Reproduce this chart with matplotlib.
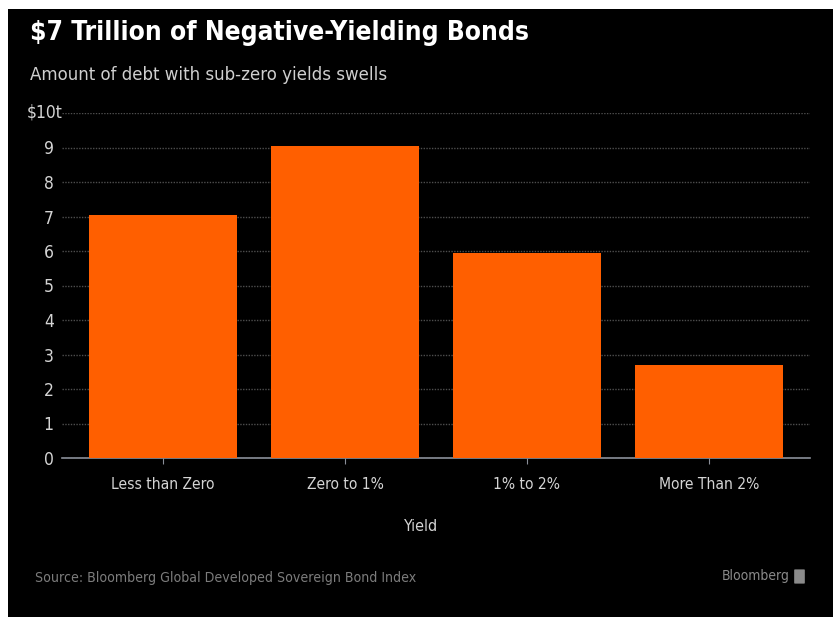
import matplotlib
matplotlib.use("Agg")
import matplotlib.pyplot as plt
from matplotlib.patches import Rectangle, FancyBboxPatch

# debt by yield bucket, trillions of dollars
categories = ["Less than Zero", "Zero to 1%", "1% to 2%", "More Than 2%"]
debt = [7.05, 9.05, 5.95, 2.7]
yticks = list(range(0, 11))
ytick_labels = [str(t) for t in yticks[:-1]] + [""]
top_label = "\\$10t"

FONT = dict(fontfamily="DejaVu Sans", fontstretch="condensed")
ORANGE = "#ff5f00"
LABEL = "#d4d4d4"

fig = plt.figure(figsize=(8.33, 6.17), dpi=100, facecolor="white")
fig.add_artist(Rectangle((8 / 833, 0), 1, 1 - 9 / 617, transform=fig.transFigure,
                         facecolor="black", edgecolor="none", zorder=0))

ax = fig.add_axes([62 / 833, 1 - 458 / 617, 748 / 833, 345 / 617])
ax.set_facecolor("black")
x = range(len(categories))
ax.bar(x, debt, width=0.81, color=ORANGE, zorder=3)
ax.set_xlim(-0.555, len(categories) - 1 + 0.555)
ax.set_ylim(0, 10)

ax.set_yticks(yticks)
ax.set_yticklabels(ytick_labels, fontsize=12.5, color=LABEL, **FONT)
ax.text(0.001, 10, top_label, transform=ax.get_yaxis_transform(),
        ha="right", va="center", fontsize=12.5, color=LABEL, **FONT)
ax.set_xticks(list(x))
ax.set_xticklabels(categories, fontsize=11.2, color=LABEL, **FONT)
ax.tick_params(axis="y", length=0, pad=6)
ax.tick_params(axis="x", length=4, color="#8a8f99", pad=10)
ax.grid(axis="y", color="#4e4e4e", linestyle=(0, (1, 1)), linewidth=1, zorder=1)
for side in ["top", "right", "left"]:
    ax.spines[side].set_visible(False)
ax.spines["bottom"].set_color("#8a8f99")
ax.spines["bottom"].set_linewidth(1.2)
ax.set_xlabel("Yield", fontsize=11.5, color=LABEL, labelpad=19, x=0.48, **FONT)

fig.text(30 / 833, 1 - 33 / 617, "\\$7 Trillion of Negative-Yielding Bonds",
         fontweight="bold", fontsize=18.9, color="white", va="center", **FONT)
fig.text(30 / 833, 1 - 75 / 617, "Amount of debt with sub-zero yields swells",
         fontsize=13.3, color="#cfcfcf", va="center", **FONT)
fig.text(35 / 833, 1 - 578 / 617, "Source: Bloomberg Global Developed Sovereign Bond Index",
         fontsize=10.1, color="#7c7c7c", va="center", **FONT)
fig.text(790 / 833, 1 - 576 / 617, "Bloomberg", fontsize=10,
         color="#8a8a8a", va="center", ha="right", **FONT)
fig.add_artist(FancyBboxPatch((795 / 833, 1 - 583 / 617), 9 / 833, 13 / 617,
                              boxstyle="round,pad=0.001", transform=fig.transFigure,
                              facecolor="#8a8a8a", edgecolor="none"))

fig.savefig("out.png", dpi=100, facecolor=fig.get_facecolor())
